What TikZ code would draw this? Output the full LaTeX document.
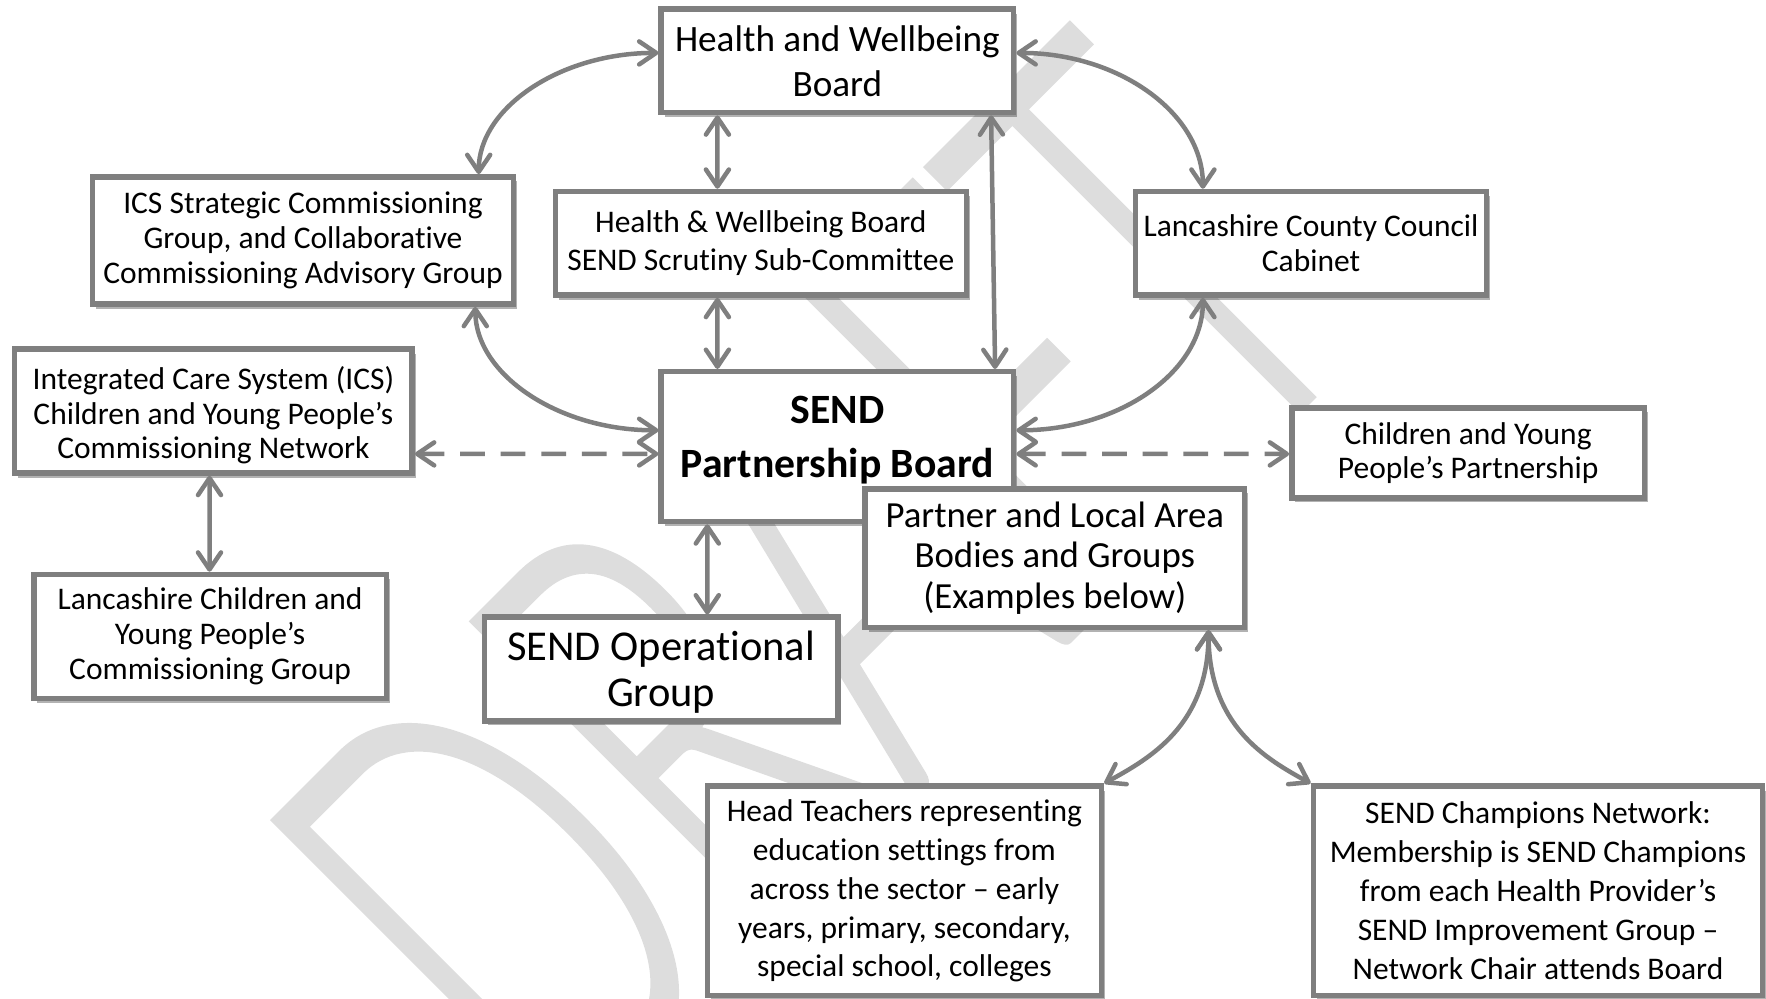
\documentclass[tikz,border=0pt]{standalone}
\usepackage{fontspec}
\setmainfont{Carlito}[Ligatures=CommonOff]
\IfFontExistsTF{Lato Light}{\newfontfamily\wmfont{Lato Light}[RawFeature={embolden=1.2}]}{\newfontfamily\wmfont{Carlito}}
\usetikzlibrary{arrows.meta,shadows,calc}
\definecolor{boxgray}{RGB}{127,127,127}
\definecolor{wmgray}{RGB}{221,221,221}
\newcommand{\shiftlines}[2]{\raisebox{#1}[\height][\depth]{\begin{tabular}{@{}c@{}}#2\end{tabular}}}
\begin{document}
\begin{tikzpicture}[x=1bp,y=-1bp,
  box/.style={draw=boxgray, line width=5.5bp, fill=white, align=center, inner sep=2bp,
    drop shadow={shadow xshift=3.5bp, shadow yshift=-4.5bp, opacity=0.3, fill=black}},
  fa/.style={font=\fontsize{31.5bp}{34.9bp}\selectfont},
  fb/.style={font=\fontsize{31.5bp}{38.9bp}\selectfont},
  tip/.tip={Straight Barb[length=17bp,width=23bp,round]},
  link/.style={draw=boxgray, line width=4.5bp, tip-tip},
  dlink/.style={link, dash pattern=on 24.8bp off 15.8bp},
]
\useasboundingbox (0,0) rectangle (1766,998);
\begin{scope}
\clip (0,0) rectangle (1766,998);
\node[text=wmgray, inner sep=0pt, font=\wmfont\fontsize{613bp}{613bp}\selectfont,
  rotate=45, xscale=0.603] (wm) at (814,588) {DRAFT};
\end{scope}

\node[box, minimum width=352.5bp, minimum height=103.6bp, font=\fontsize{37.2bp}{45bp}\selectfont]
  (health) at (837.4,60.8) {Health and Wellbeing\\Board};
\node[box, fa, minimum width=421.2bp, minimum height=127.3bp]
  (icsstrat) at (303.0,240.5) {ICS Strategic Commissioning\\Group, and Collaborative\\Commissioning Advisory Group};
\node[box, font=\fontsize{31.5bp}{38.3bp}\selectfont, minimum width=411.1bp, minimum height=103.6bp]
  (scrutiny) at (760.8,243.3) {Health \& Wellbeing Board\\SEND Scrutiny Sub-Committee};
\node[box, fa, minimum width=351.4bp, minimum height=103.6bp]
  (lcc) at (1311.0,243.3) {Lancashire County Council\\Cabinet};
\node[box, fa, minimum width=397.6bp, minimum height=123.9bp]
  (icsnet) at (213.4,411.1) {\shiftlines{-6bp}{Integrated Care System (ICS)\\Children and Young People’s\\Commissioning Network}};
\node[box, font=\fontsize{41.7bp}{54bp}\selectfont\bfseries, minimum width=352.5bp, minimum height=149.8bp]
  (sendpb) at (837.4,446.6) {\shiftlines{7.3bp}{SEND\\Partnership Board}};
\node[box, font=\fontsize{31.5bp}{33.8bp}\selectfont, minimum width=352.5bp, minimum height=90.1bp]
  (cyp) at (1468.1,452.8) {Children and Young\\People’s Partnership};
\node[box, font=\fontsize{36.8bp}{40.5bp}\selectfont, minimum width=379.6bp, minimum height=138.5bp]
  (partner) at (1054.8,558.1) {Partner and Local Area\\Bodies and Groups\\(Examples below)};
\node[box, fa, minimum width=352.5bp, minimum height=123.9bp]
  (lccyp) at (210.1,636.4) {Lancashire Children and\\Young People’s\\Commissioning Group};
\node[box, font=\fontsize{42.5bp}{46.2bp}\selectfont, minimum width=353.7bp, minimum height=103.6bp]
  (sendop) at (661.1,669.0) {\shiftlines{-5.5bp}{SEND Operational\\Group}};
\node[box, fb, minimum width=394.2bp, minimum height=209.5bp]
  (head) at (904.4,890.9) {Head Teachers representing\\education settings from\\across the sector – early\\years, primary, secondary,\\special school, colleges};
\node[box, fb, minimum width=449.4bp, minimum height=209.5bp]
  (champ) at (1538.0,890.9) {SEND Champions Network:\\Membership is SEND Champions\\from each Health Provider’s\\SEND Improvement Group –\\Network Chair attends Board};

\draw[link] ([xshift=175.7bp]icsstrat.north) .. controls +(0,-66.5) and +(-98,0) .. ([yshift=7.9bp]health.west);
\draw[link] ([yshift=7.9bp]health.east) .. controls +(102.5,0) and +(0,-75.5) .. ([xshift=-108.1bp]lcc.north);
\draw[link] ([xshift=-120bp]health.south) -- ([xshift=-43.4bp]scrutiny.north);
\draw[link] ([xshift=153.7bp]health.south) -- ([xshift=157.7bp]sendpb.north);
\draw[link] ([xshift=-43.4bp]scrutiny.south) -- ([xshift=-120bp]sendpb.north);
\draw[link] ([xshift=172.3bp]icsstrat.south) .. controls +(0,67.6) and +(-100.2,0) .. ([yshift=16.3bp]sendpb.west);
\draw[link] ([xshift=-108.1bp]lcc.south) .. controls +(0,74.3) and +(102.5,0) .. ([yshift=16.3bp]sendpb.east);
\draw[dlink] ([yshift=-42.8bp]icsnet.east) -- ([yshift=-7.3bp]sendpb.west);
\draw[dlink] ([yshift=-7.3bp]sendpb.east) -- ([yshift=-1.1bp]cyp.west);
\draw[link] ([xshift=-3.9bp]icsnet.south) -- ([xshift=-0.6bp]lccyp.north);
\draw[link] ([xshift=-130.1bp]sendpb.south) -- ([xshift=46.2bp]sendop.north);
\draw[link] ([xshift=153.7bp]partner.south) .. controls +(0,95.7) and +(45,-24.8) .. (head.north east);
\draw[link] ([xshift=153.7bp]partner.south) .. controls +(0,95.7) and +(-45,-24.8) .. (champ.north west);
\end{tikzpicture}
\end{document}
